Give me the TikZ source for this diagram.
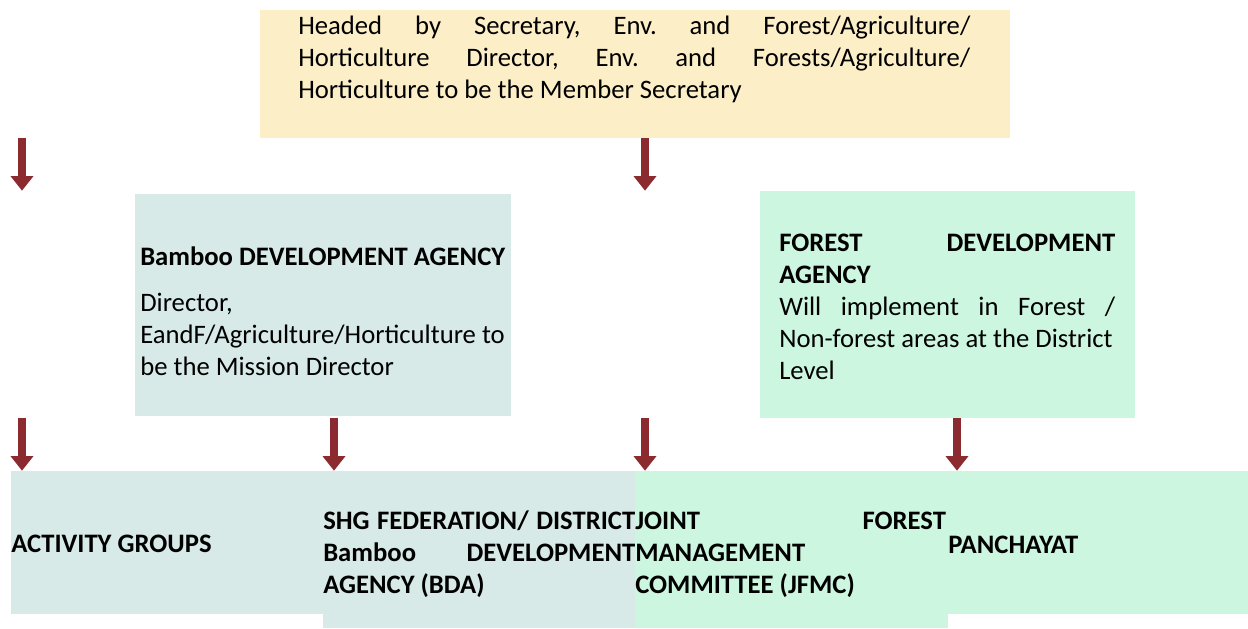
\documentclass[tikz,border=0pt]{standalone}
\usepackage{fontspec}
\setmainfont{Carlito}
\usetikzlibrary{arrows.meta,fit}
\definecolor{headfill}{RGB}{252,238,199}
\definecolor{bdafill}{RGB}{215,234,232}
\definecolor{fdafill}{RGB}{204,246,224}
\definecolor{arrowred}{RGB}{139,42,47}
\tikzset{
        box/.style={inner sep=0pt, draw=none},
        txt/.style={inner sep=0pt, anchor=base west, align=justify,
          font=\fontsize{20pt}{24pt}\selectfont},
        boldtxt/.style={txt, font=\fontsize{20pt}{24pt}\selectfont\bfseries},
        flow/.style={draw=arrowred, line width=5.6pt, -{Triangle[width=16.5pt,length=11pt]}}
          }
\begin{document}
\frenchspacing
\hyphenpenalty=10000
\exhyphenpenalty=10000
\begin{tikzpicture}[x=0.75pt,y=-0.75pt]
            \useasboundingbox (0,0) rectangle (1248,628);
            % boxes
            \node[box, fill=headfill, fit={(260,10) (1010,138)}] (head) {};
            \node[box, fill=bdafill, fit={(135,194) (511,416)}] (bda) {};
            \node[box, fill=fdafill, fit={(760,191) (1135,418)}] (fda) {};
            \node[box, fill=bdafill, fit={(11,471) (323,614)}] (act) {};
            \node[box, fill=bdafill, fit={(323,471) (635,628)}] (shg) {};
            \node[box, fill=fdafill, fit={(635,471) (948,628)}] (jfmc) {};
            \node[box, fill=fdafill, fit={(948,471) (1248,614)}] (panch) {};
            % texts
            \node[txt, text width=504pt] (headtxt) at (298,34)
              {Headed by Secretary, Env. and Forest/Agriculture/\linebreak
               Horticulture Director, Env. and Forests/Agriculture/\linebreak
               Horticulture to be the Member Secretary};
            \node[txt, text width=276pt] (bdatxt) at (140,265)
              {\textbf{Bamboo DEVELOPMENT AGENCY}\\[10.5pt]
               Director,\\ EandF/Agriculture/Horticulture to\\ be the Mission Director};
            \node[txt, text width=252pt] (fdatxt) at (779,251)
              {\textbf{FOREST DEVELOPMENT\linebreak AGENCY}\\
               Will implement in Forest /\linebreak Non-forest areas at the District\\ Level};
            \node[boldtxt] (acttxt) at (11,552) {ACTIVITY GROUPS};
            \node[boldtxt, text width=234pt] (shgtxt) at (323,529)
              {SHG FEDERATION/ DISTRICT\linebreak Bamboo DEVELOPMENT\linebreak AGENCY (BDA)};
            \node[boldtxt, text width=233pt] (jfmctxt) at (635,529)
              {JOINT FOREST\linebreak MANAGEMENT\\ COMMITTEE (JFMC)};
            \node[boldtxt] (panchtxt) at (948,553) {PANCHAYAT};
            % arrow columns
            \coordinate (c1) at (22,0);
            \coordinate (c2) at (334,0);
            \coordinate (c3) at (645,0);
            \coordinate (c4) at (957,0);
            \foreach \c in {c1,c3}
              \draw[flow] (\c |- head.south) -- (\c |- fda.north);
            \foreach \c in {c1,c2,c3,c4}
              \draw[flow] (\c |- fda.south) -- (\c |- act.north);
          \end{tikzpicture}
\end{document}
